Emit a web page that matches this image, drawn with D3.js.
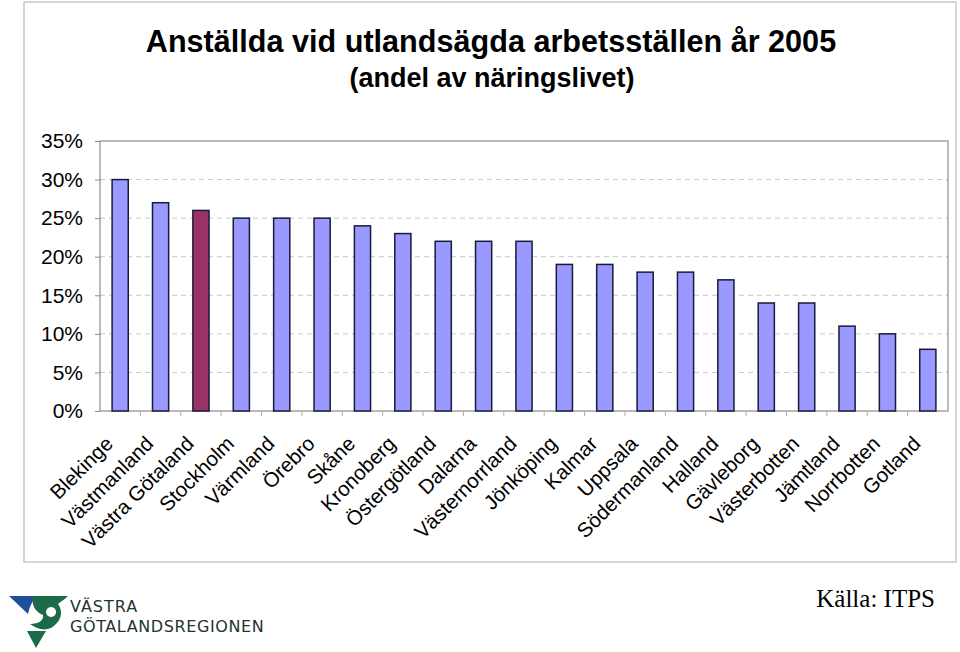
<!DOCTYPE html>
<html><head><meta charset="utf-8">
<script src="https://cdn.jsdelivr.net/npm/d3@7"></script>
<style>html,body{margin:0;padding:0;background:#fff;}svg{display:block;}</style>
</head><body>
<script>
const categories = ["Blekinge","Västmanland","Västra Götaland","Stockholm","Värmland","Örebro","Skåne","Kronoberg","Östergötland","Dalarna","Västernorrland","Jönköping","Kalmar","Uppsala","Södermanland","Halland","Gävleborg","Västerbotten","Jämtland","Norrbotten","Gotland"];
const values = [30,27,26,25,25,25,24,23,22,22,22,19,19,18,18,17,14,14,11,10,8];
const highlighted = ["Västra Götaland"];
const yTicks = [0,5,10,15,20,25,30,35];

(function () {
const W = 960, H = 652;
const svg = d3.select("body").append("svg").attr("width", W).attr("height", H);

// outer chart frame
svg.append("rect").attr("x", 24).attr("y", 2).attr("width", 932).attr("height", 560)
  .attr("fill", "#fff").attr("stroke", "#c8c8c8").attr("stroke-width", 1.5);

// title
svg.append("text").attr("x", 491).attr("y", 52).attr("text-anchor", "middle")
  .attr("font-family", "Liberation Sans, Arial, sans-serif").attr("font-weight", "bold")
  .attr("font-size", 30.6).text("Anställda vid utlandsägda arbetsställen år 2005");
svg.append("text").attr("x", 492).attr("y", 87).attr("text-anchor", "middle")
  .attr("font-family", "Liberation Sans, Arial, sans-serif").attr("font-weight", "bold")
  .attr("font-size", 27).text("(andel av näringslivet)");

const pLeft = 100, pRight = 948, pTop = 141, pBottom = 411;
const x = d3.scaleBand().domain(categories).range([pLeft, pRight]).paddingInner(0.6).paddingOuter(0.3);
const xb = d3.scaleBand().domain(categories).range([pLeft, pRight]);
const y = d3.scaleLinear().domain([0, 35]).range([pBottom, pTop]);

// gridlines
svg.append("g").selectAll("line").data(yTicks.filter(d => d > 0 && d < 35)).join("line")
  .attr("x1", pLeft).attr("x2", pRight).attr("y1", d => y(d)).attr("y2", d => y(d))
  .attr("stroke", "#c8c8c8").attr("stroke-dasharray", "5,4").attr("stroke-width", 1);

// plot frame
svg.append("rect").attr("x", pLeft).attr("y", pTop).attr("width", pRight - pLeft).attr("height", pBottom - pTop)
  .attr("fill", "none").attr("stroke", "#8c8c8c").attr("stroke-width", 1.2);

// y axis
const yAxis = svg.append("g").attr("transform", `translate(${pLeft},0)`)
  .call(d3.axisLeft(y).tickValues(yTicks).tickFormat(d => d + "%").tickSize(5).tickPadding(12));
yAxis.select(".domain").remove();
yAxis.selectAll("line").attr("stroke", "#8c8c8c");
yAxis.selectAll("text").attr("font-family", "Liberation Sans, Arial, sans-serif").attr("font-size", 21).attr("fill", "#000");

// x axis ticks (between categories)
svg.append("g").selectAll("line").data(categories.slice(1)).join("line")
  .attr("x1", d => xb(d)).attr("x2", d => xb(d)).attr("y1", pBottom).attr("y2", pBottom + 5)
  .attr("stroke", "#b0b0b0");

// bars
svg.append("g").selectAll("rect").data(categories).join("rect")
  .attr("x", d => x(d)).attr("width", x.bandwidth())
  .attr("y", (d, i) => y(values[i])).attr("height", (d, i) => pBottom - y(values[i]))
  .attr("fill", d => highlighted.includes(d) ? "#993366" : "#9999ff")
  .attr("stroke", "#1a1a3a").attr("stroke-width", 1.5);

// x labels
svg.append("g").selectAll("text").data(categories).join("text")
  .attr("transform", d => `translate(${xb(d) + xb.bandwidth() / 2 - 6},${pBottom + 34}) rotate(-45)`)
  .attr("text-anchor", "end")
  .attr("font-family", "Liberation Sans, Arial, sans-serif").attr("font-size", 20.5)
  .text(d => d);

// source
svg.append("text").attr("x", 935).attr("y", 607).attr("text-anchor", "end")
  .attr("font-family", "Liberation Serif, Times New Roman, serif").attr("font-size", 25)
  .text("Källa: ITPS");

// logo
const logo = svg.append("g");
logo.append("path").attr("d", "M9,596 L37,596 C32,601 30,606 28,614 Z").attr("fill", "#1f4e9a");
logo.append("path").attr("fill-rule", "evenodd").attr("fill", "#1d6a4a")
  .attr("d", "M33,596 L68,596 C64,600 60,602 58,604 C64,612 61,622 51,628 C44,631 37,629 30,624 C39,624 44,620 43,615 C36,612 31,606 33,596 Z M51,607 A5,5 0 1,0 51.1,607 Z");
logo.append("path").attr("d", "M27,631 L46,631 L36,648 Z").attr("fill", "#1d6a4a");
logo.append("text").attr("x", 70).attr("y", 612).attr("font-family", "DejaVu Sans, sans-serif")
  .attr("font-size", 16).attr("fill", "#24342b").attr("letter-spacing", 1).text("VÄSTRA");
logo.append("text").attr("x", 70).attr("y", 632).attr("font-family", "DejaVu Sans, sans-serif")
  .attr("font-size", 16).attr("fill", "#24342b").attr("letter-spacing", 0.6).text("GÖTALANDSREGIONEN");
})();
</script>
</body></html>
